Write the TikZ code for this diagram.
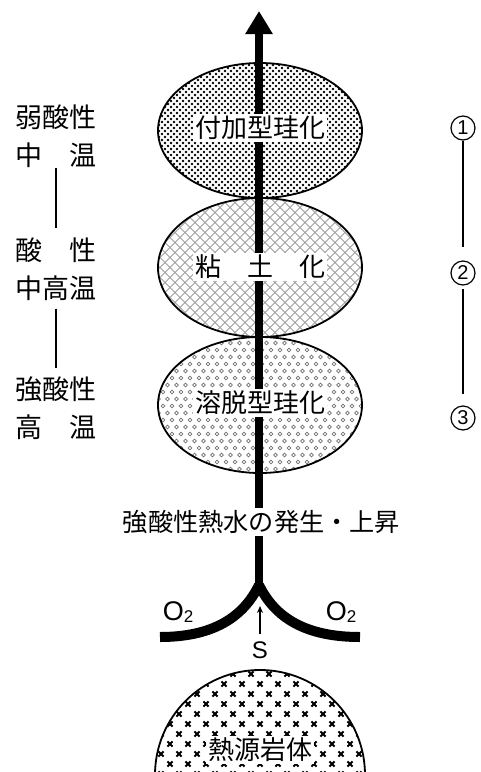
\documentclass[tikz,border=0pt]{standalone}
\usepackage{fontspec}
\setmainfont{Noto Sans CJK JP}
\newfontfamily\latfont{Liberation Sans}
\usetikzlibrary{arrows.meta}
\tikzset{
  outline/.style={draw=black, line width=1.8pt},
  bigtxt/.style={font=\fontsize{26}{30}\selectfont, inner sep=2pt},
  boxtxt/.style={bigtxt, fill=white},
  sidelab/.style={font=\fontsize{27}{38}\selectfont, align=left, inner sep=0pt},
  numlab/.style={circle, draw=black, line width=1.2pt, minimum size=24pt, inner sep=0pt, font=\latfont\fontsize{20}{21}\selectfont},
  thinline/.style={line width=1.8pt},
  flow/.style={line width=8pt},
  branch/.style={line width=10pt},
  chem/.style={font=\latfont\fontsize{27}{30}\selectfont, inner sep=0pt},
}
\begin{document}
\begin{tikzpicture}[x=1pt,y=-1pt]
\useasboundingbox (0,0) rectangle (481,772);
\fill[white] (0,0) rectangle (481,772);

% ellipse 1: dense dots
\begin{scope}
\clip (260,130.5) ellipse [x radius=102pt, y radius=67.5pt];
\foreach \j in {0,...,46} {
  \foreach \i in {0,...,35} {
    \fill ({156+\i*6+mod(\j,2)*3},{62+\j*3}) circle[radius=1.3pt];
  }
}
\end{scope}
\draw[outline] (260,130.5) ellipse [x radius=102pt, y radius=67.5pt];

% ellipse 2: crosshatch
\begin{scope}
\clip (260,267.5) ellipse [x radius=102pt, y radius=69.5pt];
\foreach \k in {-32,...,32} {
  \draw[gray!75, line width=0.8pt] ({260+\k*10-160},{267.5-160}) -- ++(320,320);
  \draw[gray!75, line width=0.8pt] ({260+\k*10+160},{267.5-160}) -- ++(-320,320);
}
\end{scope}
\draw[outline] (260,267.5) ellipse [x radius=102pt, y radius=69.5pt];

% ellipse 3: small rings
\begin{scope}
\clip (260,405) ellipse [x radius=102pt, y radius=68pt];
\foreach \j in {0,...,20} {
  \foreach \i in {0,...,24} {
    \draw[black!55, line width=0.75pt] ({154+\i*9+mod(\j,2)*4.5},{336+\j*7}) circle[radius=1.9pt];
  }
}
\end{scope}
\draw[outline] (260,405) ellipse [x radius=102pt, y radius=68pt];

% heat source dome: crosses
\begin{scope}
\clip (260,775) ellipse [x radius=105pt, y radius=105pt];
\foreach \j in {0,...,11} {
  \foreach \i in {0,...,13} {
    \draw[line width=1.9pt] ({143+\i*18+mod(\j,2)*9-2.6},{674+\j*10-2.6}) -- ++(5.2,5.2)
                            ({143+\i*18+mod(\j,2)*9+2.6},{674+\j*10-2.6}) -- ++(-5.2,5.2);
  }
}
\end{scope}
\draw[outline] (260,775) ellipse [x radius=105pt, y radius=105pt];

% main flow
\coordinate (junc) at (259,585);
\coordinate (base) at (259,594);
\coordinate (tip) at (259,11);
\coordinate (lend) at (160,637);
\coordinate (rend) at (360,637);
\draw[flow, -{Triangle[width=26pt,length=23pt]}] (base) -- (tip);
\draw[branch] (lend) .. controls (212,637) and (243,618) .. (junc);
\draw[branch] (rend) .. controls (306,637) and (275,618) .. (junc);

% texts on the flow
\node[boxtxt] (t1) at (260,128) {付加型珪化};
\node[boxtxt] (t2) at (260,267) {粘\hspace{1em}土\hspace{1em}化};
\node[boxtxt] (t3) at (260,403) {溶脱型珪化};
\node[boxtxt, font=\fontsize{25.2}{30}\selectfont] (gen) at (261.5,522) {強酸性熱水の発生・上昇};
\node[boxtxt] (src) at (260,750) {熱源岩体};

% O2 and S
\node[chem] (o2l) at (178,612) {O\raisebox{-0.06em}{\fontsize{17}{20}\selectfont 2}};
\node[chem] (o2r) at (341,612) {O\raisebox{-0.06em}{\fontsize{17}{20}\selectfont 2}};
\node[font=\latfont\fontsize{24}{26}\selectfont, inner sep=0pt] (s) at (260,650) {S};
\coordinate (sup) at (260,606);
\draw[line width=1.3pt, -{Stealth[length=7pt,width=6pt]}, shorten <=7pt] (s.north) -- (sup);

% left labels
\node[sidelab] (l1) at (56,136) {弱酸性\\中　温};
\node[sidelab] (l2) at (56,269) {酸　性\\中高温};
\node[sidelab] (l3) at (56,408.5) {強酸性\\高　温};
\draw[thinline, shorten >=9pt] (l1.south) -- (l2.north);
\draw[thinline, shorten <=8pt, shorten >=9pt] (l2.south) -- (l3.north);

% right numbers
\node[numlab] (n1) at (463,128) {1};
\node[numlab] (n2) at (463,273) {2};
\node[numlab] (n3) at (463,418) {3};
\draw[thinline, shorten >=13pt] (n1.south) -- (n2.north);
\draw[thinline, shorten <=3.5pt, shorten >=11.5pt] (n2.south) -- (n3.north);
\end{tikzpicture}
\end{document}
